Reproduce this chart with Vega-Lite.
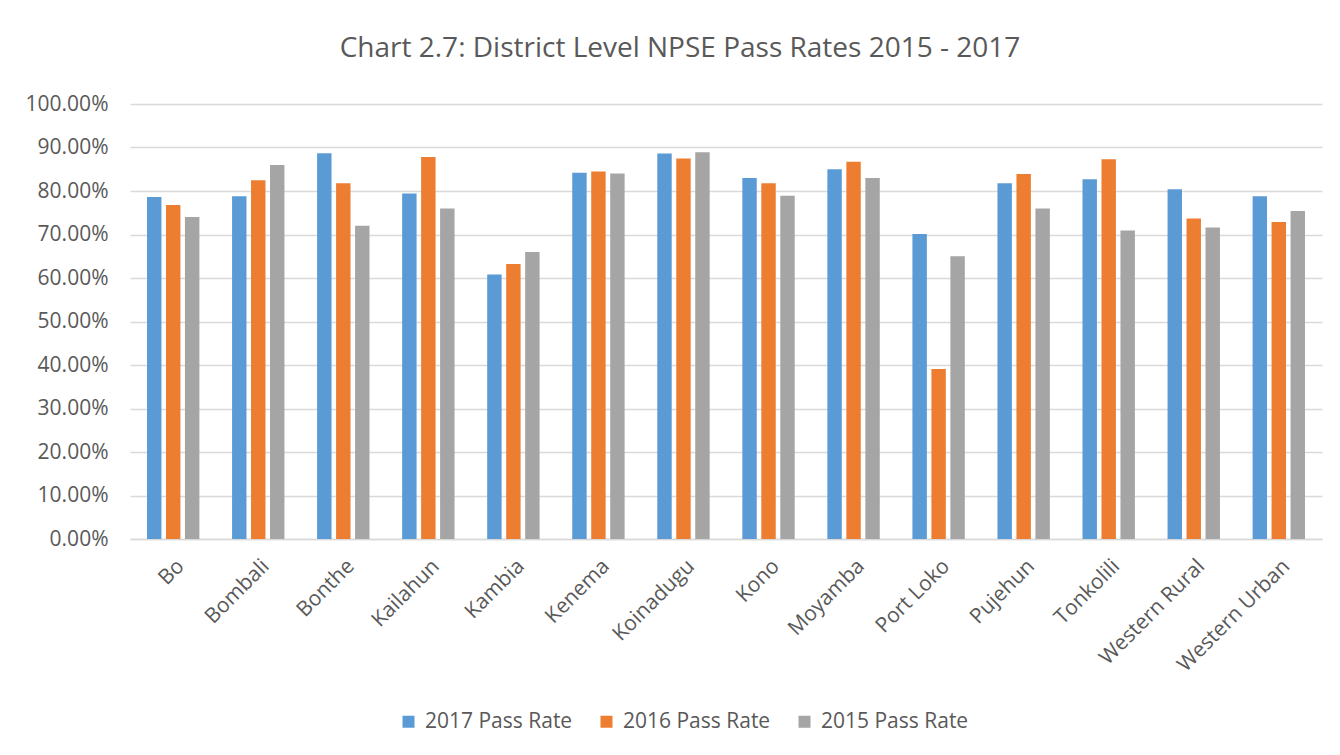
{
  "$schema": "https://vega.github.io/schema/vega-lite/v6.json",
  "width": 1192,
  "height": 435,
  "autosize": {"type": "none"},
  "padding": {"left": 130, "top": 104, "right": 18, "bottom": 216},
  "background": "white",
  "title": {
    "text": "Chart 2.7: District Level NPSE Pass Rates 2015 - 2017",
    "font": "Open Sans",
    "fontSize": 28,
    "fontWeight": "normal",
    "color": "#595959",
    "anchor": "middle",
    "dx": -46,
    "offset": 30
  },
  "data": {
    "values": [
      {"district": "Bo", "series": "2017 Pass Rate", "rate": 0.786},
      {"district": "Bo", "series": "2016 Pass Rate", "rate": 0.768},
      {"district": "Bo", "series": "2015 Pass Rate", "rate": 0.740},
      {"district": "Bombali", "series": "2017 Pass Rate", "rate": 0.788},
      {"district": "Bombali", "series": "2016 Pass Rate", "rate": 0.825},
      {"district": "Bombali", "series": "2015 Pass Rate", "rate": 0.860},
      {"district": "Bonthe", "series": "2017 Pass Rate", "rate": 0.887},
      {"district": "Bonthe", "series": "2016 Pass Rate", "rate": 0.818},
      {"district": "Bonthe", "series": "2015 Pass Rate", "rate": 0.720},
      {"district": "Kailahun", "series": "2017 Pass Rate", "rate": 0.794},
      {"district": "Kailahun", "series": "2016 Pass Rate", "rate": 0.878},
      {"district": "Kailahun", "series": "2015 Pass Rate", "rate": 0.760},
      {"district": "Kambia", "series": "2017 Pass Rate", "rate": 0.608},
      {"district": "Kambia", "series": "2016 Pass Rate", "rate": 0.632},
      {"district": "Kambia", "series": "2015 Pass Rate", "rate": 0.660},
      {"district": "Kenema", "series": "2017 Pass Rate", "rate": 0.842},
      {"district": "Kenema", "series": "2016 Pass Rate", "rate": 0.845},
      {"district": "Kenema", "series": "2015 Pass Rate", "rate": 0.840},
      {"district": "Koinadugu", "series": "2017 Pass Rate", "rate": 0.886},
      {"district": "Koinadugu", "series": "2016 Pass Rate", "rate": 0.875},
      {"district": "Koinadugu", "series": "2015 Pass Rate", "rate": 0.889},
      {"district": "Kono", "series": "2017 Pass Rate", "rate": 0.830},
      {"district": "Kono", "series": "2016 Pass Rate", "rate": 0.818},
      {"district": "Kono", "series": "2015 Pass Rate", "rate": 0.789},
      {"district": "Moyamba", "series": "2017 Pass Rate", "rate": 0.850},
      {"district": "Moyamba", "series": "2016 Pass Rate", "rate": 0.867},
      {"district": "Moyamba", "series": "2015 Pass Rate", "rate": 0.830},
      {"district": "Port Loko", "series": "2017 Pass Rate", "rate": 0.701},
      {"district": "Port Loko", "series": "2016 Pass Rate", "rate": 0.391},
      {"district": "Port Loko", "series": "2015 Pass Rate", "rate": 0.650},
      {"district": "Pujehun", "series": "2017 Pass Rate", "rate": 0.818},
      {"district": "Pujehun", "series": "2016 Pass Rate", "rate": 0.839},
      {"district": "Pujehun", "series": "2015 Pass Rate", "rate": 0.760},
      {"district": "Tonkolili", "series": "2017 Pass Rate", "rate": 0.827},
      {"district": "Tonkolili", "series": "2016 Pass Rate", "rate": 0.873},
      {"district": "Tonkolili", "series": "2015 Pass Rate", "rate": 0.709},
      {"district": "Western Rural", "series": "2017 Pass Rate", "rate": 0.804},
      {"district": "Western Rural", "series": "2016 Pass Rate", "rate": 0.737},
      {"district": "Western Rural", "series": "2015 Pass Rate", "rate": 0.716},
      {"district": "Western Urban", "series": "2017 Pass Rate", "rate": 0.788},
      {"district": "Western Urban", "series": "2016 Pass Rate", "rate": 0.729},
      {"district": "Western Urban", "series": "2015 Pass Rate", "rate": 0.754}
    ]
  },
  "mark": {"type": "bar"},
  "encoding": {
    "x": {
      "field": "district",
      "type": "nominal",
      "sort": null,
      "scale": {"paddingInner": 0.384, "paddingOuter": 0.2},
      "axis": {
        "title": null,
        "labelAngle": -45,
        "labelFont": "Open Sans",
        "labelFontSize": 21,
        "labelColor": "#595959",
        "ticks": false,
        "domainColor": "#d9d9d9",
        "domainWidth": 1.5,
        "labelPadding": 16
      }
    },
    "xOffset": {
      "field": "series",
      "type": "nominal",
      "sort": ["2017 Pass Rate", "2016 Pass Rate", "2015 Pass Rate"],
      "scale": {"paddingInner": 0.24, "paddingOuter": 0}
    },
    "y": {
      "field": "rate",
      "type": "quantitative",
      "scale": {"domain": [0, 1], "nice": false},
      "axis": {
        "title": null,
        "format": ".2%",
        "values": [0, 0.1, 0.2, 0.3, 0.4, 0.5, 0.6, 0.7, 0.8, 0.9, 1.0],
        "labelFont": "Open Sans",
        "labelFontSize": 21,
        "labelColor": "#595959",
        "ticks": false,
        "domain": false,
        "gridColor": "#d9d9d9",
        "gridWidth": 1.5,
        "labelPadding": 22
      }
    },
    "color": {
      "field": "series",
      "type": "nominal",
      "sort": ["2017 Pass Rate", "2016 Pass Rate", "2015 Pass Rate"],
      "scale": {
        "domain": ["2017 Pass Rate", "2016 Pass Rate", "2015 Pass Rate"],
        "range": ["#5B9BD5", "#ED7D31", "#A5A5A5"]
      },
      "legend": {
        "title": null,
        "orient": "none",
        "direction": "horizontal",
        "legendX": 268,
        "legendY": 607,
        "symbolType": "square",
        "symbolSize": 144,
        "symbolStrokeWidth": 0,
        "labelFont": "Open Sans",
        "labelFontSize": 21,
        "labelColor": "#595959",
        "columnPadding": 23,
        "labelOffset": 6
      }
    }
  },
  "config": {
    "view": {"stroke": null}
  }
}
